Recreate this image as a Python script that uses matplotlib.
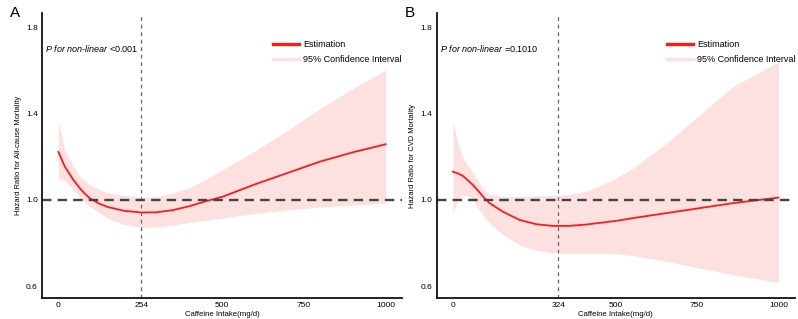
import numpy as np
import matplotlib
matplotlib.use("Agg")
from matplotlib import pyplot as plt

plt.rcParams['font.family'] = 'Liberation Sans'
plt.rcParams['mathtext.fontset'] = 'custom'
plt.rcParams['mathtext.it'] = 'Liberation Sans:italic'
plt.rcParams['mathtext.rm'] = 'Liberation Sans'

# panel A - all-cause mortality
a_x = [0, 20, 46, 70, 95, 125, 150, 200, 254, 300, 350, 400, 450, 500, 600, 700, 800, 900, 1000]
a_est = [1.222, 1.153, 1.092, 1.045, 1.008, 0.982, 0.967, 0.949, 0.941, 0.942, 0.952, 0.970, 0.993, 1.013,
         1.071, 1.124, 1.177, 1.220, 1.257]
a_upper = [1.361, 1.23, 1.153, 1.10, 1.07, 1.048, 1.033, 1.02, 1.012, 1.015, 1.032, 1.055, 1.095, 1.138,
           1.226, 1.32, 1.423, 1.515, 1.60]
a_lower = [1.10, 1.088, 1.046, 1.005, 0.97, 0.94, 0.915, 0.886, 0.872, 0.873, 0.882, 0.895, 0.905, 0.915,
           0.936, 0.953, 0.966, 0.976, 0.984]
a_ticks = [0, 254, 500, 750, 1000]
a_ref = 254

# panel B - CVD mortality
b_x = [0, 15, 31, 46, 61, 81, 97, 112, 153, 204, 255, 306, 357, 408, 451, 500, 553, 655, 757, 859, 1000]
b_est = [1.130, 1.122, 1.110, 1.090, 1.069, 1.035, 1.007, 0.985, 0.945, 0.907, 0.887, 0.879, 0.879, 0.885,
         0.893, 0.902, 0.915, 0.938, 0.961, 0.984, 1.010]
b_upper = [1.361, 1.261, 1.192, 1.16, 1.125, 1.077, 1.045, 1.025, 1.015, 1.015, 1.018, 1.02, 1.025, 1.04,
           1.065, 1.10, 1.146, 1.261, 1.392, 1.523, 1.638]
b_lower = [0.938, 1.0, 1.02, 1.018, 1.0, 0.953, 0.92, 0.892, 0.838, 0.792, 0.765, 0.755, 0.752, 0.752,
           0.752, 0.750, 0.741, 0.715, 0.684, 0.653, 0.617]
b_ticks = [0, 324, 500, 750, 1000]
b_ref = 324

y_ticks = [0.6, 1.0, 1.4, 1.8]


def draw_panel(ax, x, est, lo, hi, ticks, ref, ylab, ptext, letter):
    ax.fill_between(x, lo, hi, color='#fde1e1', linewidth=0, label='95% Confidence Interval')
    ax.plot(x, est, color='#ff1a1a', linewidth=1.3, label='Estimation')
    ax.axvline(ref, color='#666666', linewidth=0.9, linestyle=(0, (3, 3)))
    ax.axhline(1.0, color='#444444', linewidth=1.7, linestyle=(0, (4, 2.6)), clip_on=False)
    ax.set_xlim(-50, 1050)
    ax.set_ylim(0.545, 1.865)
    ax.set_xticks(ticks)
    ax.set_xticklabels([str(t) for t in ticks])
    ax.set_yticks(y_ticks)
    ax.tick_params(length=0, labelsize=6, pad=3)
    for s in ['top', 'right']:
        ax.spines[s].set_visible(False)
    for s in ['left', 'bottom']:
        ax.spines[s].set_linewidth(1.3)
        ax.spines[s].set_color('#111111')
    ax.set_xlabel('Caffeine Intake(mg/d)', fontsize=5.6, labelpad=1)
    ax.set_ylabel(ylab, fontsize=5.4, labelpad=3)
    ax.text(0.008, 0.877, ptext, transform=ax.transAxes, fontsize=6.5, va='center', ha='left')
    ax.text(-0.09, 1.0, letter, transform=ax.transAxes, fontsize=11, va='center', ha='left')

    # legend: red line first, then pink band as a thick line
    est_h = plt.Line2D([], [], color='#ff1a1a', linewidth=2.4)
    ci_h = plt.Line2D([], [], color='#fde1e1', linewidth=2.4)
    ax.legend([est_h, ci_h], ['Estimation', '95% Confidence Interval'], loc='upper left',
              bbox_to_anchor=(0.642, 0.905), frameon=False, fontsize=6.5, handlelength=2.9,
              handletextpad=0.45, labelspacing=0.65, borderpad=0, borderaxespad=0)


fig = plt.figure(figsize=(7.98, 3.19), dpi=100)
ax1 = fig.add_axes([42 / 798, 1 - 298 / 319, 360 / 798, 285 / 319])
ax2 = fig.add_axes([436.7 / 798, 1 - 298 / 319, 358 / 798, 285 / 319])

draw_panel(ax1, a_x, a_est, a_lower, a_upper, a_ticks, a_ref,
           'Hazard Ratio for All-cause Mortality', r'$\it{P\ for\ non}$-$\it{linear}$ <0.001', 'A')
draw_panel(ax2, b_x, b_est, b_lower, b_upper, b_ticks, b_ref,
           'Hazard Ratio for CVD Mortality', r'$\it{P\ for\ non}$-$\it{linear}$ =0.1010', 'B')

fig.savefig('out.png', dpi=100)
